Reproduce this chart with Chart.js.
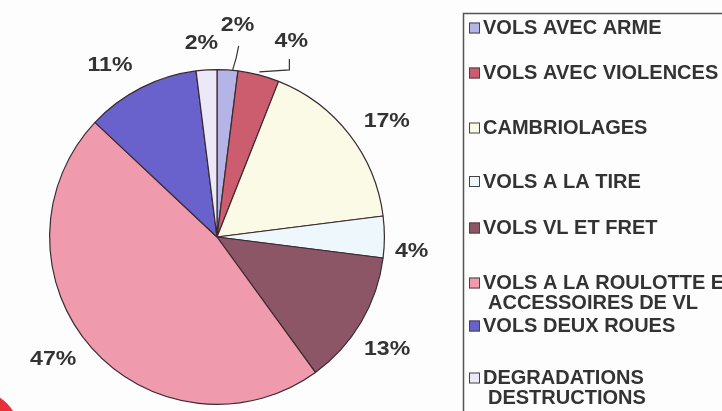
<!DOCTYPE html>
<html>
<head>
<meta charset="utf-8">
<script src="https://cdn.jsdelivr.net/npm/chart.js@4.4.0/dist/chart.umd.min.js"></script>
<style>
  html, body { margin: 0; padding: 0; background: #fdfdfd; }
  canvas { display: block; }
</style>
</head>
<body>
<canvas id="pie" width="722" height="411"></canvas>
<script>
// data
const categories = [
  "VOLS AVEC ARME",
  "VOLS AVEC VIOLENCES",
  "CAMBRIOLAGES",
  "VOLS A LA TIRE",
  "VOLS VL ET FRET",
  ["VOLS A LA ROULOTTE ET", "ACCESSOIRES DE VL"],
  "VOLS DEUX ROUES",
  ["DEGRADATIONS", "DESTRUCTIONS"]
];
const shares = [2, 4, 17, 4, 13, 47, 11, 2];
const sliceColors = ["#b4b4e6", "#cc5d6e", "#fbfae6", "#eef7fb", "#8c5666", "#f09aae", "#6a62cc", "#ebe9f8"];

// label placement (distance from centre, angle nudge in degrees)
const labelDist = [214, 210, 206, 195, 203, 204, 203, 195];
const labelNudge = [1.9, 6.3, 3.3, 3.8, 2.5, 4.8, -4.8, -1];
// legend row positions
const legendRows = [27.5, 72.5, 127.5, 181, 227.5, 282.5, 325.5, 377.5];

const pieLabels = {
  id: "pieLabels",
  afterDatasetsDraw(chart) {
    const ctx = chart.ctx;
    const arcs = chart.getDatasetMeta(0).data;
    ctx.save();
    ctx.fillStyle = "#333";
    ctx.textAlign = "center";
    ctx.textBaseline = "middle";
    ctx.font = "bold 21px 'Liberation Sans', Arial, sans-serif";
    arcs.forEach((arc, i) => {
      const mid = (arc.startAngle + arc.endAngle) / 2 + labelNudge[i] * Math.PI / 180;
      const x = arc.x + labelDist[i] * Math.cos(mid);
      const y = arc.y + labelDist[i] * Math.sin(mid);
      ctx.save();
      ctx.translate(x, y);
      ctx.scale(1.1, 1);
      ctx.fillText(shares[i] + "%", 0, 1);
      ctx.restore();
    });

    // leader lines for the two small slices at the top
    ctx.strokeStyle = "#333";
    ctx.lineWidth = 1.2;
    let a = arcs[0];
    let m = (a.startAngle + a.endAngle) / 2 + 0.03;
    ctx.beginPath();
    ctx.moveTo(a.x + a.outerRadius * Math.cos(m), a.y + a.outerRadius * Math.sin(m));
    ctx.quadraticCurveTo(a.x + (a.outerRadius + 12) * Math.cos(m) + 3, a.y + (a.outerRadius + 12) * Math.sin(m),
      a.x + (a.outerRadius + 25) * Math.cos(m + 0.02), a.y + (a.outerRadius + 25) * Math.sin(m + 0.02));
    ctx.stroke();

    a = arcs[1];
    m = (a.startAngle + a.endAngle) / 2;
    const x0 = a.x + (a.outerRadius + 3) * Math.cos(m);
    const y0 = a.y + (a.outerRadius + 3) * Math.sin(m);
    ctx.beginPath();
    ctx.moveTo(x0, y0);
    ctx.lineTo(x0 + 30, y0 - 2);
    ctx.lineTo(x0 + 30, y0 - 13);
    ctx.stroke();
    ctx.restore();
  },
  afterDraw(chart) {
    const ctx = chart.ctx;
    const colors = chart.data.datasets[0].backgroundColor;
    ctx.save();
    // legend frame, runs off the right and bottom edges
    ctx.strokeStyle = "#555";
    ctx.lineWidth = 1.5;
    ctx.strokeRect(463.5, 13.5, 300, 430);

    ctx.font = "bold 20px 'Liberation Sans', Arial, sans-serif";
    ctx.textBaseline = "middle";
    ctx.textAlign = "left";
    chart.data.labels.forEach((lab, i) => {
      const y = legendRows[i];
      ctx.fillStyle = colors[i];
      ctx.fillRect(469, y - 5, 11, 11);
      ctx.strokeStyle = "#444";
      ctx.lineWidth = 1;
      ctx.strokeRect(469.5, y - 4.5, 10, 10);
      const lines = Array.isArray(lab) ? lab : [lab];
      lines.forEach((t, k) => {
        ctx.fillStyle = "#333";
        ctx.fillText(t, k === 0 ? 483 : 488, y + k * 20 + 1);
      });
    });

    // red mark in the bottom-left corner
    ctx.fillStyle = "#e8303a";
    ctx.beginPath();
    ctx.arc(-20, 430, 38, 0, Math.PI * 2);
    ctx.fill();
    ctx.restore();
  }
};

new Chart(document.getElementById("pie"), {
  type: "pie",
  data: {
    labels: categories,
    datasets: [{
      data: shares,
      backgroundColor: sliceColors,
      borderColor: "#3a2a30",
      borderWidth: 1.2
    }]
  },
  options: {
    responsive: false,
    animation: false,
    layout: { padding: { left: 49, top: 69, right: 337, bottom: 6 } },
    plugins: {
      legend: { display: false },
      tooltip: { enabled: false }
    }
  },
  plugins: [pieLabels]
});
</script>
</body>
</html>
